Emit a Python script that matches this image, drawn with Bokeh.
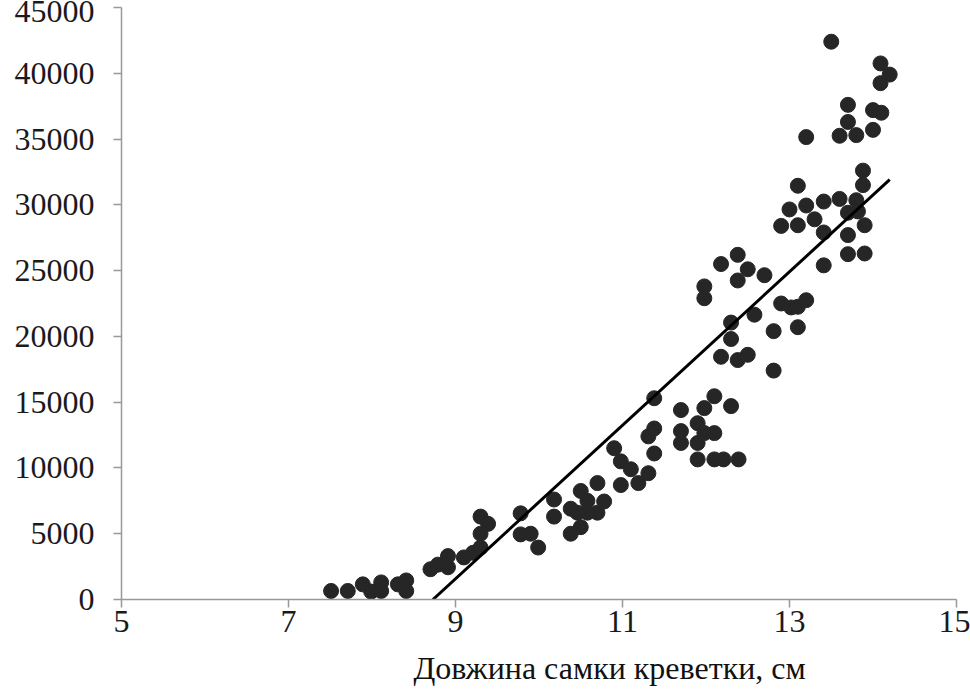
from bokeh.plotting import figure
from bokeh.models import Range1d, FixedTicker, Title, ColumnDataSource
from bokeh.embed import file_html
from bokeh.resources import INLINE

# Female shrimp length (cm) and weight values
length_cm = [
    7.51, 7.71, 7.89, 7.99, 8.11, 8.11, 8.31, 8.41, 8.41,
    8.70, 8.79, 8.91, 8.91, 9.10, 9.21, 9.30, 9.30, 9.39, 9.30,
    9.78, 9.78, 9.90, 9.99,
    10.18, 10.18, 10.38, 10.50, 10.58, 10.70, 10.78, 10.70, 10.58, 10.46,
    10.50, 10.38,
    10.90, 10.98, 11.10, 10.98, 11.19, 11.31, 11.38, 11.31, 11.38,
    11.38, 11.70, 12.10, 11.98, 12.30,
    11.70, 11.90, 11.98, 12.10, 11.70, 11.90,
    11.90, 12.10, 12.21, 12.39,
    12.18, 12.38, 12.50, 12.38, 12.70, 11.98, 11.98, 12.58, 12.30, 12.30,
    12.18, 12.38, 12.50, 12.81, 12.81, 12.90, 13.02, 13.10, 13.20, 13.10,
    13.88, 13.88, 13.10, 13.00, 13.20, 13.41, 13.60, 13.80, 13.70, 13.82,
    12.90, 13.10, 13.30, 13.41, 13.70, 13.90, 13.70, 13.90, 13.41,
    13.50, 14.09, 14.20, 14.09, 13.70, 14.00, 14.10, 13.70,
    13.20, 13.60, 13.80, 14.00,
]
weight = [
    650, 650, 1150, 600, 1300, 650, 1150, 1450, 650,
    2300, 2650, 2450, 3300, 3200, 3550, 3950, 5000, 5750, 6300,
    6550, 4950, 5000, 3950,
    7600, 6300, 6900, 8250, 7500, 8850, 7450, 6600, 6600, 6600,
    5500, 5000,
    11500, 10500, 9900, 8700, 8850, 9600, 11100, 12400, 13000,
    15300, 14400, 15450, 14550, 14700,
    12800, 13400, 12650, 12650, 11900, 11900,
    10650, 10650, 10650, 10650,
    25500, 26200, 25100, 24250, 24650, 23800, 22900, 21650, 21050, 19800,
    18450, 18200, 18600, 20400, 17400, 22500, 22200, 22250, 22750, 20700,
    32600, 31500, 31450, 29650, 29950, 30250, 30450, 30350, 29400, 29500,
    28400, 28450, 28900, 27900, 27700, 28450, 26250, 26300, 25400,
    42400, 40750, 39900, 39250, 37600, 37200, 37000, 36300,
    35150, 35250, 35300, 35700,
]

# Linear trend line
trend_slope = 5834.0
trend_intercept = -50930.0

x_ticks = [5, 7, 9, 11, 13, 15]
y_ticks = [0, 5000, 10000, 15000, 20000, 25000, 30000, 35000, 40000, 45000]
x_title = "Довжина самки креветки, см"

FONT = "Liberation Serif"

p = figure(
    width=970, height=692,
    x_range=Range1d(5, 15), y_range=Range1d(0, 45000),
    output_backend="svg", toolbar_location=None,
    min_border_left=121, min_border_right=14,
    min_border_top=7, min_border_bottom=93,
    background_fill_color="white", border_fill_color="white",
)
p.outline_line_color = None
p.xgrid.grid_line_color = None
p.ygrid.grid_line_color = None

for ax in (p.xaxis[0], p.yaxis[0]):
    ax.axis_line_color = "#999999"
    ax.axis_line_width = 1.5
    ax.major_tick_line_color = "#999999"
    ax.major_tick_line_width = 1.5
    ax.major_tick_out = 8
    ax.major_tick_in = 0
    ax.minor_tick_line_color = None
    ax.major_label_text_font = FONT
    ax.major_label_text_font_size = "32px"
    ax.major_label_text_color = "#1a1a1a"

p.xaxis[0].ticker = FixedTicker(ticks=x_ticks)
p.yaxis[0].ticker = FixedTicker(ticks=y_ticks)
p.xaxis[0].major_label_standoff = 3
p.yaxis[0].major_label_standoff = 19

x_min = min(length_cm)
x_max = max(length_cm)
x_start = max(x_min, -trend_intercept / trend_slope)
trend_x = [x_start, x_max]
trend_y = [trend_slope * x + trend_intercept for x in trend_x]

src = ColumnDataSource(data=dict(x=length_cm, y=weight))
p.scatter("x", "y", source=src, size=15, fill_color="#262626",
          line_color="#262626")
p.line(trend_x, trend_y, line_color="black", line_width=3)

# small blank spacer panel between the axis and the axis title
spacer = Title(text=" ", text_font_size="6px", standoff=0)
p.add_layout(spacer, "below")

t = Title(text=x_title, align="left", offset=292,
          text_font=FONT, text_font_size="32px", text_font_style="normal",
          text_color="#111111")
p.add_layout(t, "below")

open("out.html", "w").write(file_html(p, INLINE))
